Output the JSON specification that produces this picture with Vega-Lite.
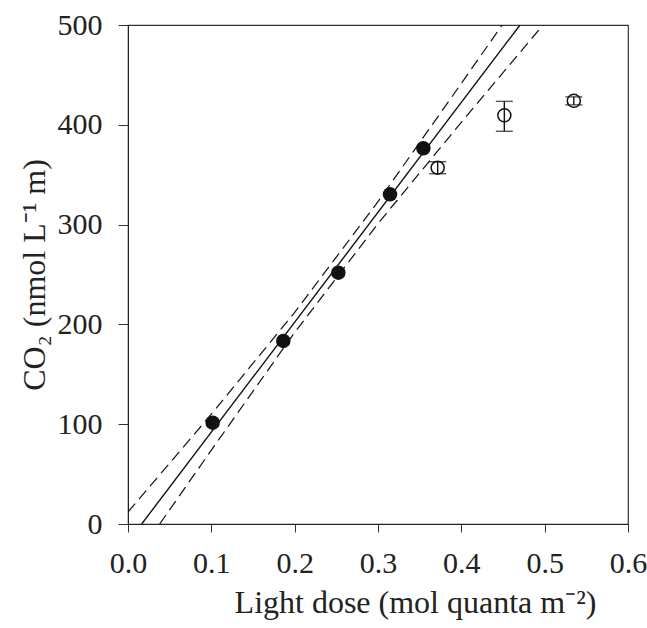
{
  "$schema": "https://vega.github.io/schema/vega-lite/v6.json",
  "width": 500,
  "height": 499,
  "autosize": "none",
  "padding": {"left": 128, "top": 25, "right": 19, "bottom": 104},
  "background": "white",
  "config": {
    "view": {"stroke": "#333", "strokeWidth": 1.2},
    "font": "Liberation Serif",
    "axis": {
      "grid": false,
      "labelFlush": false,
      "labelOverlap": false,
      "domainColor": "#222",
      "tickColor": "#333",
      "labelFont": "Liberation Serif",
      "titleFont": "Liberation Serif",
      "labelFontSize": 30,
      "titleFontSize": 32,
      "labelColor": "#222",
      "titleColor": "#222",
      "titleFontWeight": "normal"
    }
  },
  "datasets": {
    "pts": [
      {"x": 0.1016, "y": 101.5, "lo": 101.5, "hi": 101.5, "kind": "fit"},
      {"x": 0.1864, "y": 183.4, "lo": 183.4, "hi": 183.4, "kind": "fit"},
      {"x": 0.2524, "y": 251.8, "lo": 251.8, "hi": 251.8, "kind": "fit"},
      {"x": 0.3144, "y": 330.4, "lo": 330.4, "hi": 330.4, "kind": "fit"},
      {"x": 0.3544, "y": 376.4, "lo": 376.4, "hi": 376.4, "kind": "fit"},
      {"x": 0.3716, "y": 357.0, "lo": 351.0, "hi": 363.0, "kind": "excluded"},
      {"x": 0.4516, "y": 409.5, "lo": 393.5, "hi": 423.5, "kind": "excluded"},
      {"x": 0.5350, "y": 424.0, "lo": 420.0, "hi": 428.0, "kind": "excluded"}
    ],
    "lines": [
      {"x": 0.0164, "y": 0, "s": "fit"},
      {"x": 0.4704, "y": 500, "s": "fit"},
      {"x": 0.0, "y": 12, "s": "upper"},
      {"x": 0.1, "y": 110, "s": "upper"},
      {"x": 0.2, "y": 212, "s": "upper"},
      {"x": 0.3, "y": 323, "s": "upper"},
      {"x": 0.4, "y": 441.5, "s": "upper"},
      {"x": 0.449, "y": 500, "s": "upper"},
      {"x": 0.038, "y": 0, "s": "lower"},
      {"x": 0.1, "y": 74, "s": "lower"},
      {"x": 0.2, "y": 192, "s": "lower"},
      {"x": 0.3, "y": 301, "s": "lower"},
      {"x": 0.4, "y": 402.5, "s": "lower"},
      {"x": 0.498, "y": 500, "s": "lower"}
    ]
  },
  "layer": [
    {
      "data": {"name": "lines"},
      "transform": [{"filter": "datum.s === 'fit'"}],
      "mark": {"type": "line", "color": "#111", "strokeWidth": 1.4, "clip": true},
      "encoding": {
        "x": {"field": "x", "type": "quantitative", "scale": {"domain": [0, 0.6], "nice": false},
          "axis": {"values": [0, 0.1, 0.2, 0.3, 0.4, 0.5, 0.6], "format": ".1f", "tickSize": 8, "labelPadding": 16, "title": "Light dose (mol quanta m⁻²)", "titlePadding": 9, "titleX": 287}},
        "y": {"field": "y", "type": "quantitative", "scale": {"domain": [0, 500], "nice": false},
          "axis": {"values": [0, 100, 200, 300, 400, 500], "tickSize": 10, "labelPadding": 16, "title": "CO₂ (nmol L⁻¹ m)", "titlePadding": 6}}
      }
    },
    {
      "data": {"name": "lines"},
      "transform": [{"filter": "datum.s !== 'fit'"}],
      "mark": {"type": "line", "color": "#111", "strokeWidth": 1.2, "strokeDash": [11, 6], "clip": true},
      "encoding": {
        "x": {"field": "x", "type": "quantitative"},
        "y": {"field": "y", "type": "quantitative"},
        "detail": {"field": "s"}
      }
    },
    {
      "data": {"name": "pts"},
      "transform": [{"filter": "datum.kind === 'excluded'"}],
      "mark": {"type": "rule", "color": "#111", "strokeWidth": 1.4},
      "encoding": {
        "x": {"field": "x", "type": "quantitative"},
        "y": {"field": "lo", "type": "quantitative"},
        "y2": {"field": "hi"}
      }
    },
    {
      "data": {"name": "pts"},
      "transform": [{"filter": "datum.kind === 'excluded'"}],
      "mark": {"type": "tick", "orient": "horizontal", "color": "#111", "size": 17, "thickness": 1.4},
      "encoding": {
        "x": {"field": "x", "type": "quantitative"},
        "y": {"field": "lo", "type": "quantitative"}
      }
    },
    {
      "data": {"name": "pts"},
      "transform": [{"filter": "datum.kind === 'excluded'"}],
      "mark": {"type": "tick", "orient": "horizontal", "color": "#111", "size": 17, "thickness": 1.4},
      "encoding": {
        "x": {"field": "x", "type": "quantitative"},
        "y": {"field": "hi", "type": "quantitative"}
      }
    },
    {
      "data": {"name": "pts"},
      "transform": [{"filter": "datum.kind === 'excluded'"}],
      "mark": {"type": "point", "shape": "circle", "filled": false, "fill": null, "stroke": "#111", "strokeWidth": 1.5, "size": 170, "opacity": 1},
      "encoding": {
        "x": {"field": "x", "type": "quantitative"},
        "y": {"field": "y", "type": "quantitative"}
      }
    },
    {
      "data": {"name": "pts"},
      "transform": [{"filter": "datum.kind === 'fit'"}],
      "mark": {"type": "point", "shape": "circle", "filled": true, "color": "#111", "size": 210, "opacity": 1},
      "encoding": {
        "x": {"field": "x", "type": "quantitative"},
        "y": {"field": "y", "type": "quantitative"}
      }
    }
  ]
}
